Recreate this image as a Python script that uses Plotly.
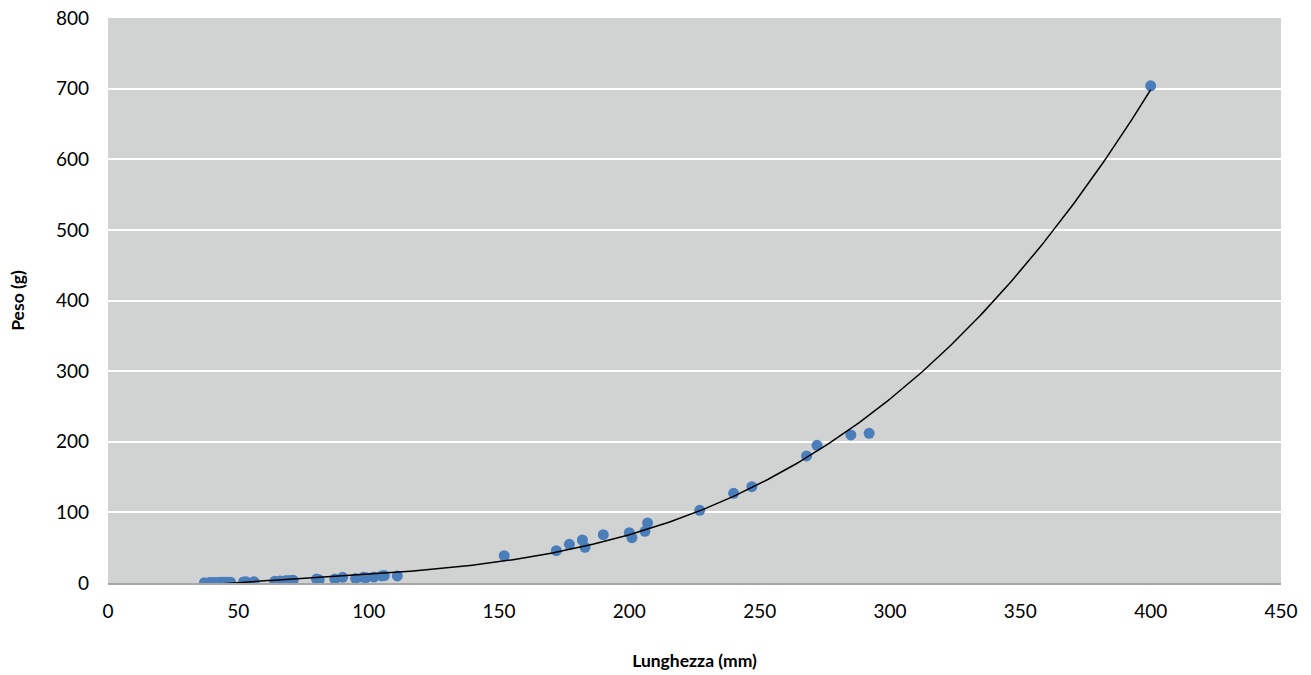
import numpy as np
import plotly.graph_objects as go

# Fish length (mm) and weight (g) samples
lunghezza = [37, 39, 40, 41, 42, 43, 44, 45, 46, 47,
             52, 53, 56,
             64, 66, 68, 69, 70, 71,
             80, 81, 87, 90, 95, 98, 99,
             102, 105, 106, 111,
             152, 172, 177, 182, 183, 190, 200, 201, 206, 207,
             227, 240, 247, 268, 272, 285, 292, 400]
peso = [0.5, 0.6, 0.7, 0.7, 0.8, 0.9, 1.0, 1.0, 1.1, 1.2,
        1.5, 1.6, 1.8,
        2.6, 2.8, 3.2, 3.3, 3.6, 4.0,
        5.5, 4.5, 5.5, 8.0, 6.5, 8.0, 7.5,
        8.5, 10.0, 10.5, 10.0,
        38.7, 45.8, 54.8, 60.9, 50.5, 68.4, 71.3, 64.2, 73.2, 85.0,
        102.9, 127.0, 136.4, 179.9, 195.0, 209.6, 212.0, 704.0]

x_ticks = [0, 50, 100, 150, 200, 250, 300, 350, 400, 450]
y_ticks = [0, 100, 200, 300, 400, 500, 600, 700, 800]

# Third-order polynomial trendline across the sampled length range
coef = np.polyfit(lunghezza, peso, 3)
xs = np.linspace(min(lunghezza), max(lunghezza), 300)
ys = np.polyval(coef, xs)

fig = go.Figure()
fig.add_trace(go.Scatter(
    x=lunghezza, y=peso, mode="markers",
    marker=dict(size=11, color="#4A7EBB"),
    showlegend=False, hoverinfo="x+y",
))
fig.add_trace(go.Scatter(
    x=xs, y=ys, mode="lines",
    line=dict(color="black", width=1.5),
    showlegend=False, hoverinfo="skip",
))

font_family = "Lato, 'Open Sans', sans-serif"
fig.update_layout(
    width=1311, height=675,
    margin=dict(l=108, r=30, t=18, b=92, autoexpand=False),
    paper_bgcolor="white",
    plot_bgcolor="#D1D3D2",
    font=dict(family=font_family, size=19, color="black"),
)
fig.update_xaxes(
    range=[0, 450], tickvals=x_ticks, ticktext=[str(v) for v in x_ticks],
    showgrid=False, zeroline=False, automargin=False,
    showline=True, linecolor="#A6A6A6", linewidth=2,
    ticks="", ticklabelstandoff=10,
    title=dict(text="<b>Lunghezza (mm)</b>", font=dict(size=17.5), standoff=34),
)
fig.update_yaxes(
    range=[0, 800], tickvals=y_ticks, ticktext=[str(v) for v in y_ticks],
    showgrid=True, gridcolor="white", gridwidth=1.5,
    zeroline=False, showline=False, automargin=False,
    ticks="", ticklabelstandoff=18,
    title=dict(text="<b>Peso (g)</b>", font=dict(size=17.5), standoff=26),
)

fig.write_html("out.html")
